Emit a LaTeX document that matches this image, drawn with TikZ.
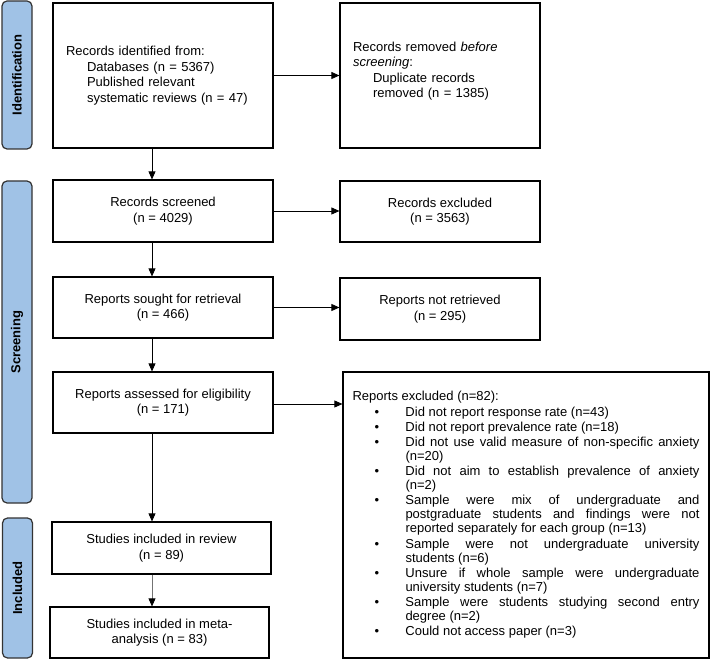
\documentclass[tikz,border=0pt]{standalone}
\usepackage{fontspec}
\setmainfont{Liberation Sans}
\usetikzlibrary{arrows.meta}
\definecolor{phaseblue}{RGB}{160,194,230}
% one bullet line of the exclusion list
\newcommand{\exitem}[1]{\par\hangindent=53pt\hangafter=0\noindent\llap{\makebox[31pt][l]{\textbullet}}#1\par}

\begin{document}
\begin{tikzpicture}[x=1pt, y=-1pt,
	font=\fontsize{13}{15.5}\selectfont,
	box/.style={draw, line width=1.2pt, inner sep=0pt, align=center},
	phase/.style={draw=black!80, line width=1.2pt, fill=phaseblue, rounded corners=5pt,
		rotate=90, minimum height=30pt, inner sep=0pt, font=\fontsize{13}{15}\selectfont\bfseries},
	arr/.style={-{Triangle[length=8pt,width=7pt]}, line width=0.8pt}]

	\useasboundingbox (0,0) rectangle (710,660);

	% phases on the left
	\node[phase, minimum width=148pt] (pid) at (17,75) {Identification};
	\node[phase, minimum width=322pt] (pscr) at (17,342) {Screening};
	\node[phase, minimum width=140pt] (pinc) at (17.5,588) {Included};

	% main column
	\node[box, align=left, text width=194pt, inner xsep=13pt, minimum height=145pt] (ident) at (163,75.5)
		{Records identified from:\\
		\hspace*{21pt}Databases (n = 5367)\\
		\hspace*{21pt}Published relevant\\
		\hspace*{21pt}systematic reviews (n = 47)};
	\node[box, minimum width=220pt, minimum height=62pt] (screened) at (163,211) {Records screened\\(n = 4029)};
	\node[box, minimum width=220pt, minimum height=61pt] (sought) at (163,307.5) {Reports sought for retrieval\\(n = 466)};
	\node[box, minimum width=220pt, minimum height=61pt] (assessed) at (163,402.5) {Reports assessed for eligibility\\(n = 171)};
	\node[box, minimum width=219pt, minimum height=52pt] (review) at (161.5,548) {Studies included in review\\(n = 89)};
	\node[box, minimum width=219pt, minimum height=51pt] (meta) at (159.5,632.5) {Studies included in meta-\\analysis (n = 83)};

	% side column
	\node[box, align=left, text width=174pt, inner xsep=13pt, minimum height=145pt] (removed) at (440,75.5)
		{Records removed \textit{before}\\
		\textit{screening}:\\
		\hspace*{20pt}Duplicate records\\
		\hspace*{20pt}removed (n = 1385)\\[-4pt]\mbox{}};
	\node[box, minimum width=200pt, minimum height=61pt] (excluded) at (440,211.5) {Records excluded\\(n = 3563)};
	\node[box, minimum width=200pt, minimum height=62pt] (notretr) at (440,309) {Reports not retrieved\\(n = 295)};
	\node[box, align=justify, text width=347pt, inner xsep=9.5pt, minimum height=286pt] (repexcl) at (526,515)
		{\fontsize{13}{14}\selectfont\setlength{\parskip}{1.2pt}%
		\noindent Reports excluded (n=82):\par
		\exitem{Did not report response rate (n=43)}
		\exitem{Did not report prevalence rate (n=18)}
		\exitem{Did not use valid measure of non-specific anxiety\linebreak (n=20)}
		\exitem{Did not aim to establish prevalence of anxiety\linebreak (n=2)}
		\exitem{Sample were mix of undergraduate and\linebreak postgraduate students and findings were not\linebreak reported separately for each group (n=13)}
		\exitem{Sample were not undergraduate university\linebreak students (n=6)}
		\exitem{Unsure if whole sample were undergraduate\linebreak university students (n=7)}
		\exitem{Sample were students studying second entry\linebreak degree (n=2)}
		\exitem{Could not access paper (n=3)}};

	% connectors
	\coordinate (spine) at (152,0);
	\draw[arr] (ident.south -| spine) -- (screened.north -| spine);
	\draw[arr] (screened.south -| spine) -- (sought.north -| spine);
	\draw[arr] (sought.south -| spine) -- (assessed.north -| spine);
	\draw[arr] (assessed.south -| spine) -- (review.north -| spine);
	\draw[arr, draw=black!55, -{Triangle[length=8pt,width=7pt,color=black]}] (review.south -| spine) -- (meta.north -| spine);

	\draw[arr] (ident.east) -- (ident.east -| removed.west);
	\draw[arr] (screened.east) -- (screened.east -| excluded.west);
	\draw[arr] (sought.east) -- (sought.east -| notretr.west);
	\draw[arr] ([yshift=-1.5pt]assessed.east) -- ([yshift=-1.5pt]assessed.east -| repexcl.west);
\end{tikzpicture}
\end{document}
